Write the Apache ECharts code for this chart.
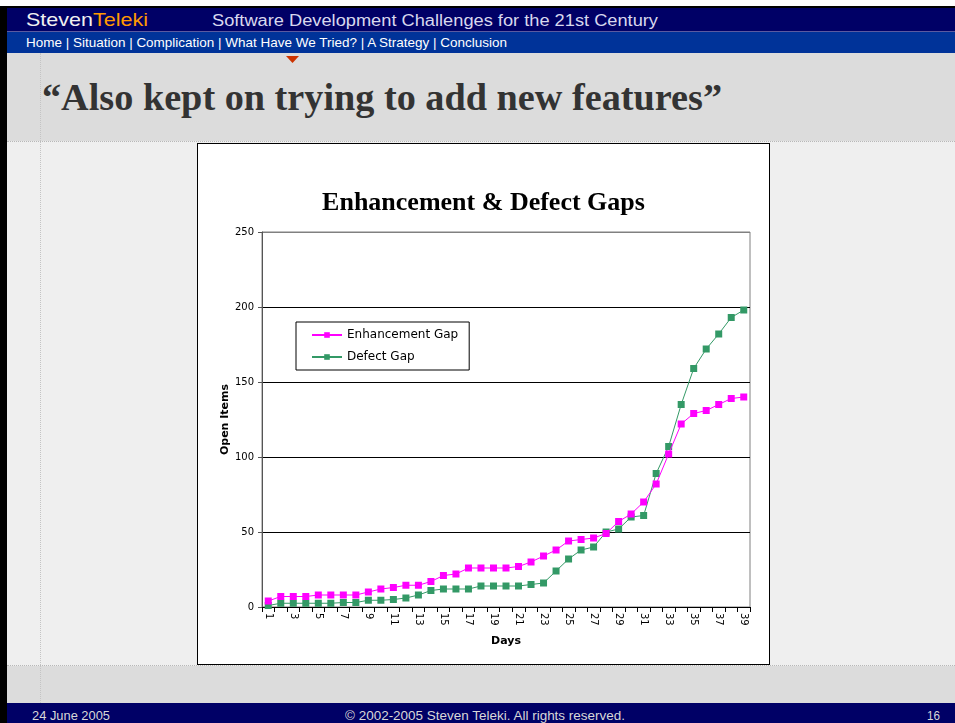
<!DOCTYPE html>
<html>
<head>
<meta charset="utf-8">
<script src="https://cdn.jsdelivr.net/npm/echarts@6/dist/echarts.min.js"></script>
<style>
  html, body { margin: 0; padding: 0; }
  body { width: 955px; height: 723px; position: relative; overflow: hidden; background: #fff; font-family: "Liberation Sans", Arial, sans-serif; }
  .abs { position: absolute; }
  .t { position: absolute; white-space: nowrap; transform-origin: 0 50%; }
</style>
</head>
<body>
<!-- slide chrome -->
<div class="abs" style="left:0;top:6px;width:955px;height:717px;background:#000;"></div>
<div class="abs" style="left:7px;top:8px;width:948px;height:23px;background:#000066;"></div>
<div class="abs" style="left:7px;top:31px;width:948px;height:1px;background:#5a5aa0;"></div>
<div class="abs" style="left:7px;top:32px;width:948px;height:21px;background:#003399;"></div>
<div class="abs" style="left:7px;top:53px;width:948px;height:650px;background:#dcdcdc;"></div>
<div class="abs" style="left:7px;top:141px;width:948px;height:523px;background:#efefef;border-top:1px dotted #b8b8b8;border-bottom:1px dotted #b8b8b8;"></div>
<div class="abs" style="left:40px;top:53px;width:0;height:650px;border-left:1px dotted #c4c4c4;"></div>
<div class="abs" style="left:7px;top:703px;width:948px;height:20px;background:#000066;"></div>
<svg class="abs" style="left:0;top:0;" width="955" height="723"><polygon points="286,56 299,56 292.5,63" fill="#cc3300"/></svg>

<div class="t" data-w="122" style="left:26px;top:9px;line-height:22px;font-size:19px;"><span style="color:#f0f0f0;">Steven</span><span style="color:#ff9900;">Teleki</span></div>
<div class="t" data-w="446" style="left:212px;top:10px;line-height:22px;font-size:16px;color:#d8d8ee;">Software Development Challenges for the 21st Century</div>
<div class="t" data-w="481" style="left:26px;top:35px;line-height:16px;font-size:13px;color:#ffffff;">Home | Situation | Complication | What Have We Tried? | A Strategy | Conclusion</div>
<div class="t" data-w="680" style="left:42px;top:76px;line-height:42px;font-size:38px;font-weight:bold;color:#333333;font-family:'Liberation Serif','DejaVu Serif',serif;">“Also kept on trying to add new features”</div>
<div class="t" data-w="78" style="left:32px;top:708px;line-height:16px;font-size:13px;color:#d8d8d8;">24 June 2005</div>
<div class="t" data-w="280" style="left:345px;top:708px;line-height:16px;font-size:13px;color:#d8d8d8;">© 2002-2005 Steven Teleki. All rights reserved.</div>
<div class="t" data-w="13" style="left:927px;top:708px;line-height:16px;font-size:13px;color:#d8d8d8;">16</div>

<!-- chart box -->
<div class="abs" style="left:197px;top:143px;width:573px;height:522px;box-sizing:border-box;border:1px solid #000;background:#fff;"></div>
<div id="chart" class="abs" style="left:198px;top:144px;width:571px;height:520px;"></div>

<script>
// ---- data ----
var days = [];
for (var d = 1; d <= 39; d++) days.push(String(d));
var enhancementGap = [4, 7, 7, 7, 8, 8, 8, 8, 10, 12, 13, 14.5, 14.5, 17, 21, 22, 26, 26, 26, 26,
                      27, 30, 34, 38, 44, 45, 46, 49, 57, 62, 70, 82, 102, 122, 129, 131, 135, 139, 140];
var defectGap      = [1, 2.5, 2.5, 2.5, 2.5, 2.5, 3, 3, 4.5, 4.5, 5, 6, 8, 11, 12, 12, 12, 14, 14, 14,
                      14, 15, 16, 24, 32, 38, 40, 50, 52, 60, 61, 89, 107, 135, 159, 172, 182, 193, 198];
var seriesNames = ['Enhancement Gap', 'Defect Gap'];
var chartTitle = 'Enhancement & Defect Gaps';
var yName = 'Open Items';
var xName = 'Days';

// ---- fit chrome text widths ----
document.querySelectorAll('.t').forEach(function (el) {
  var w = parseFloat(el.getAttribute('data-w'));
  var actual = el.getBoundingClientRect().width;
  if (actual > 0) el.style.transform = 'scaleX(' + (w / actual) + ')';
});

// ---- chart ----
var chart = echarts.init(document.getElementById('chart'), null, { renderer: 'canvas' });
var font = 'DejaVu Sans, Verdana, sans-serif';
chart.setOption({
  animation: false,
  backgroundColor: '#ffffff',
  title: {
    text: chartTitle,
    left: 'center',
    top: 44,
    padding: 0,
    textStyle: { fontFamily: 'Liberation Serif, Times New Roman, serif', fontWeight: 'bold', fontSize: 26, color: '#000', lineHeight: 30 }
  },
  legend: {
    orient: 'vertical',
    left: 98,
    top: 178,
    padding: [6, 11, 6, 15],
    itemGap: 8,
    itemWidth: 30,
    itemHeight: 7,
    borderColor: '#000',
    borderWidth: 1,
    backgroundColor: '#fff',
    textStyle: { fontFamily: font, fontSize: 12, color: '#000', lineHeight: 14 },
    data: seriesNames
  },
  grid: {
    left: 64, top: 88, width: 488, height: 375,
    show: true, borderColor: '#808080', borderWidth: 1, backgroundColor: '#fff'
  },
  xAxis: {
    type: 'category',
    data: days,
    boundaryGap: true,
    name: xName,
    nameLocation: 'middle',
    nameGap: 29,
    nameMoveOverlap: false,
    nameTextStyle: { fontFamily: font, fontWeight: 'bold', fontSize: 11, color: '#000' },
    axisLine: { lineStyle: { color: '#000', width: 1 } },
    axisTick: { show: true, interval: 0, length: 5, lineStyle: { color: '#000' } },
    axisLabel: { interval: 1, rotate: -90, margin: 6, fontFamily: font, fontSize: 10, color: '#000' },
    splitLine: { show: false }
  },
  yAxis: {
    type: 'value',
    min: 0, max: 250, interval: 50,
    name: yName,
    nameLocation: 'middle',
    nameGap: 31,
    nameMoveOverlap: false,
    nameTextStyle: { fontFamily: font, fontWeight: 'bold', fontSize: 11, color: '#000' },
    axisLine: { show: true, lineStyle: { color: '#555', width: 1 } },
    axisTick: { show: true, length: 4, lineStyle: { color: '#555' } },
    axisLabel: { margin: 8, fontFamily: font, fontSize: 10, color: '#000' },
    splitLine: { show: true, lineStyle: { color: ['#000', '#000', '#000', '#000', '#000', '#808080'], width: 1 } }
  },
  series: [
    {
      name: seriesNames[0], type: 'line', data: enhancementGap,
      symbol: 'rect', symbolSize: 7,
      itemStyle: { color: '#ff00ff' },
      lineStyle: { color: '#ff00ff', width: 1 },
      z: 3
    },
    {
      name: seriesNames[1], type: 'line', data: defectGap,
      symbol: 'rect', symbolSize: 7,
      itemStyle: { color: '#339966' },
      lineStyle: { color: '#339966', width: 1 },
      z: 2
    }
  ]
});
</script>
</body>
</html>
